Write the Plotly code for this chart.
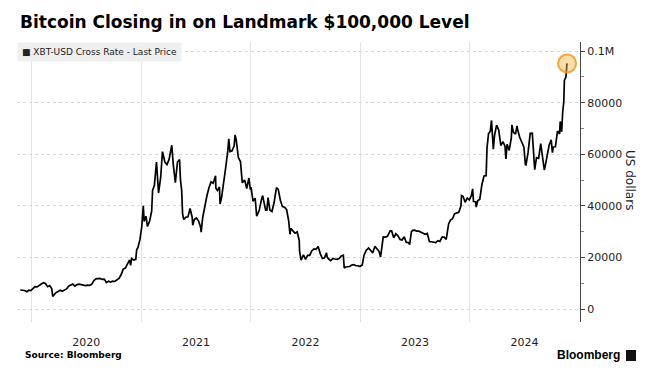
import plotly.graph_objects as go

title_text = "Bitcoin Closing in on Landmark $100,000 Level"
series_name = "XBT-USD Cross Rate - Last Price"
y_tick_vals = [0, 20000, 40000, 60000, 80000, 100000]
y_tick_text = ["0", "20000", "40000", "60000", "80000", "0.1M"]

dates = [
    "2019-11-25", "2019-12-02", "2019-12-09", "2019-12-17", "2019-12-23", "2019-12-30",
    "2020-01-06", "2020-01-13", "2020-01-20", "2020-01-27", "2020-02-03", "2020-02-10",
    "2020-02-17", "2020-02-24", "2020-03-02", "2020-03-09", "2020-03-12", "2020-03-16",
    "2020-03-23", "2020-03-30", "2020-04-06", "2020-04-13", "2020-04-20", "2020-04-27",
    "2020-05-04", "2020-05-11", "2020-05-18", "2020-05-25", "2020-06-01", "2020-06-08",
    "2020-06-15", "2020-06-22", "2020-06-29", "2020-07-06", "2020-07-13", "2020-07-20",
    "2020-07-27", "2020-08-03", "2020-08-10", "2020-08-17", "2020-08-24", "2020-08-31",
    "2020-09-07", "2020-09-14", "2020-09-21", "2020-09-28", "2020-10-05", "2020-10-12",
    "2020-10-19", "2020-10-26", "2020-11-02", "2020-11-09", "2020-11-16", "2020-11-23",
    "2020-11-27", "2020-11-30", "2020-12-07", "2020-12-14", "2020-12-17", "2020-12-21",
    "2020-12-28", "2020-12-31",
    "2021-01-03", "2021-01-08", "2021-01-11", "2021-01-17", "2021-01-22", "2021-01-29",
    "2021-02-05", "2021-02-08", "2021-02-14", "2021-02-21", "2021-02-28", "2021-03-07",
    "2021-03-13", "2021-03-21", "2021-03-28", "2021-04-04", "2021-04-13", "2021-04-18",
    "2021-04-25", "2021-05-02", "2021-05-09", "2021-05-12", "2021-05-16", "2021-05-19",
    "2021-05-23", "2021-05-30", "2021-06-06", "2021-06-13", "2021-06-20", "2021-06-22",
    "2021-06-27", "2021-07-04", "2021-07-11", "2021-07-18", "2021-07-20", "2021-07-25",
    "2021-08-01", "2021-08-08", "2021-08-15", "2021-08-22", "2021-08-29", "2021-09-06",
    "2021-09-07", "2021-09-12", "2021-09-19", "2021-09-21", "2021-09-26", "2021-10-03",
    "2021-10-10", "2021-10-17", "2021-10-20", "2021-10-24", "2021-10-31", "2021-11-07",
    "2021-11-10", "2021-11-14", "2021-11-21", "2021-11-28", "2021-12-04", "2021-12-12",
    "2021-12-19", "2021-12-26", "2021-12-31",
    "2022-01-02", "2022-01-09", "2022-01-16", "2022-01-21", "2022-01-24", "2022-01-30",
    "2022-02-06", "2022-02-10", "2022-02-13", "2022-02-20", "2022-02-24", "2022-02-28",
    "2022-03-06", "2022-03-13", "2022-03-20", "2022-03-28", "2022-04-03", "2022-04-10",
    "2022-04-17", "2022-04-24", "2022-05-01", "2022-05-08", "2022-05-12", "2022-05-15",
    "2022-05-22", "2022-05-29", "2022-06-05", "2022-06-12", "2022-06-13", "2022-06-18",
    "2022-06-26", "2022-07-03", "2022-07-10", "2022-07-17", "2022-07-24", "2022-07-31",
    "2022-08-07", "2022-08-14", "2022-08-21", "2022-08-28", "2022-09-04", "2022-09-11",
    "2022-09-13", "2022-09-18", "2022-09-25", "2022-10-02", "2022-10-09", "2022-10-16",
    "2022-10-23", "2022-10-30", "2022-11-06", "2022-11-09", "2022-11-13", "2022-11-20",
    "2022-11-27", "2022-12-04", "2022-12-11", "2022-12-18", "2022-12-25", "2022-12-31",
    "2023-01-08", "2023-01-14", "2023-01-21", "2023-01-29", "2023-02-05", "2023-02-12",
    "2023-02-19", "2023-02-26", "2023-03-05", "2023-03-10", "2023-03-14", "2023-03-19",
    "2023-03-26", "2023-04-02", "2023-04-11", "2023-04-16", "2023-04-23", "2023-04-30",
    "2023-05-07", "2023-05-14", "2023-05-21", "2023-05-28", "2023-06-04", "2023-06-11",
    "2023-06-15", "2023-06-21", "2023-06-25", "2023-07-02", "2023-07-09", "2023-07-16",
    "2023-07-23", "2023-07-30", "2023-08-06", "2023-08-13", "2023-08-17", "2023-08-20",
    "2023-08-27", "2023-09-03", "2023-09-10", "2023-09-17", "2023-09-24", "2023-10-01",
    "2023-10-08", "2023-10-15", "2023-10-23", "2023-10-29", "2023-11-05", "2023-11-12",
    "2023-11-19", "2023-11-26", "2023-12-03", "2023-12-05", "2023-12-10", "2023-12-17",
    "2023-12-24", "2023-12-31",
    "2024-01-07", "2024-01-11", "2024-01-14", "2024-01-21", "2024-01-23", "2024-01-28",
    "2024-02-04", "2024-02-11", "2024-02-18", "2024-02-25", "2024-02-28", "2024-03-04",
    "2024-03-10", "2024-03-14", "2024-03-20", "2024-03-24", "2024-03-31", "2024-04-07",
    "2024-04-14", "2024-04-21", "2024-04-28", "2024-05-01", "2024-05-05", "2024-05-12",
    "2024-05-19", "2024-05-21", "2024-05-26", "2024-06-02", "2024-06-07", "2024-06-09",
    "2024-06-16", "2024-06-23", "2024-06-30", "2024-07-05", "2024-07-07", "2024-07-14",
    "2024-07-21", "2024-07-28", "2024-08-05", "2024-08-11", "2024-08-18", "2024-08-25",
    "2024-09-01", "2024-09-06", "2024-09-08", "2024-09-15", "2024-09-22", "2024-09-29",
    "2024-10-03", "2024-10-06", "2024-10-13", "2024-10-20", "2024-10-27", "2024-10-29",
    "2024-11-03", "2024-11-06", "2024-11-10", "2024-11-12", "2024-11-17", "2024-11-20",
    "2024-11-21",
]

prices = [
    7400, 7400, 7200, 6700, 7300, 7200,
    8000, 8700, 8600, 9300, 9700, 10200,
    9900, 8700, 9100, 7900, 4900, 5400,
    6400, 6800, 7300, 6900, 7200, 7800,
    8900, 9300, 9700, 8900, 9500, 9700,
    9400, 9300, 9100, 9300, 9200, 9600,
    11000, 11700, 11800, 11900, 11500, 11600,
    10300, 10800, 10500, 10800, 10700, 11400,
    11900, 13300, 15500, 15900, 17700, 19000,
    17000, 19600, 19000, 19300, 23000, 23800,
    27000, 29000,
    32000, 40000, 34000, 36000, 32000, 34000,
    38000, 46000, 48000, 57000, 45000, 51000,
    61000, 57000, 56000, 58000, 63500, 56000,
    49000, 57000, 58000, 50000, 46000, 37000,
    34700, 35600, 35800, 39000, 35600, 32500,
    34700, 35300, 34200, 31800, 29800, 35400,
    39900, 43800, 47000, 49300, 48800, 51700,
    46800, 46000, 47300, 40700, 43200, 48200,
    55000, 61500, 66000, 61000, 61300, 63300,
    67500, 65500, 58700, 57200, 49000, 50000,
    46700, 50800, 46300,
    47300, 41800, 43000, 36000, 36700, 38500,
    42400, 44000, 42200, 38300, 38300, 43200,
    38400, 37800, 41200, 47100, 46400, 42200,
    39700, 39500, 38500, 34000, 29000, 31300,
    30300, 29400, 29900, 26600, 22500, 19000,
    21000, 19300, 20800, 20800, 22600, 23300,
    23200, 24300, 21500, 19600, 19900, 21800,
    20200, 19400, 18800, 19600, 19400, 19300,
    19600, 20600, 20900, 15900, 16300, 16300,
    16500, 17100, 17200, 16800, 16800, 16500,
    17100, 20900, 22700, 23700, 22900, 21800,
    24300, 23500, 22400, 20200, 24700, 28000,
    27900, 28200, 30300, 30300, 27600, 29200,
    28400, 27000, 26800, 28000, 25800, 25800,
    25000, 30000, 30500, 30600, 30200, 30200,
    29800, 29300, 29000, 29300, 26600, 26100,
    26100, 25800, 25800, 26500, 26200, 27900,
    27900, 27000, 33000, 34500, 35000, 37000,
    37400, 37500, 39900, 44000, 43700, 41400,
    43000, 42300,
    44000, 46600, 41700, 41600, 39500, 42000,
    42600, 48300, 51600, 51700, 62500, 68000,
    68900, 73100, 62000, 67200, 71300, 69400,
    63400, 64900, 63100, 58200, 63900, 61500,
    66300, 71400, 68500, 67800, 71000, 69600,
    66600, 64300, 62700, 56000, 55900, 60800,
    68100, 68200, 54000, 58700, 58400, 64100,
    57300, 53900, 54800, 59200, 63500, 65600,
    60600, 62800, 62900, 69000, 67900, 72700,
    68700, 75900, 80500, 88700, 89800, 94300,
    95200,
]

fig = go.Figure()
fig.add_trace(go.Scatter(
    x=dates, y=prices, mode="lines",
    line=dict(color="#000000", width=1.7),
    name=series_name, showlegend=False, hoverinfo="skip",
))
fig.add_trace(go.Scatter(
    x=[dates[-1]], y=[prices[-1]], mode="markers",
    marker=dict(size=18, color="rgba(247,180,70,0.45)",
                line=dict(color="rgba(240,160,40,0.9)", width=2)),
    showlegend=False, hoverinfo="skip",
))

fig.update_layout(
    width=657, height=374,
    margin=dict(l=17, r=77, t=42, b=52),
    paper_bgcolor="white", plot_bgcolor="white",
    font=dict(family="DejaVu Sans", color="#222222", size=11),
    title=dict(text="<b>" + title_text + "</b>", x=20 / 657, xanchor="left",
               y=1 - 22 / 374, yanchor="middle",
               font=dict(family="DejaVu Sans", size=17, color="#000000")),
    xaxis=dict(
        type="date", range=["2019-11-14", "2025-01-03"],
        tick0="2020-01-01", dtick="M12", ticklabelmode="period", tickformat="%Y",
        showgrid=True, gridcolor="#e4e4e4", gridwidth=1,
        ticks="outside", ticklen=10, tickcolor="rgba(0,0,0,0)",
        showline=False, zeroline=False,
        tickfont=dict(family="DejaVu Sans", size=11, color="#222222"),
    ),
    yaxis=dict(
        side="right", range=[-5000, 103500],
        tickvals=y_tick_vals, ticktext=y_tick_text,
        showgrid=True, gridcolor="#d8d8d8", griddash="dot",
        showline=True, linecolor="#444444", linewidth=1,
        ticks="outside", ticklen=4, tickcolor="#444444",
        minor=dict(ticks="outside", ticklen=3, dtick=10000, tick0=0, tickcolor="#888888", showgrid=False),
        zeroline=False,
        tickfont=dict(family="DejaVu Sans", size=11, color="#222222"),
    ),
    annotations=[
        dict(text="■ " + series_name, xref="paper", yref="paper",
             x=20 / 657 - 17 / 563, y=1.0, xanchor="left", yanchor="top",
             showarrow=False, bgcolor="#efefef", borderpad=4,
             font=dict(family="DejaVu Sans", size=9, color="#222222")),
        dict(text="US dollars", xref="paper", yref="paper",
             x=(630 - 17) / 563, y=(322 - 180) / 280, textangle=90,
             showarrow=False, xanchor="center", yanchor="middle",
             font=dict(family="DejaVu Sans", size=12, color="#222222")),
        dict(text="<b>Source: Bloomberg</b>", xref="paper", yref="paper",
             x=(23 - 17) / 563, y=(322 - 355) / 280, xanchor="left", yanchor="middle",
             showarrow=False, font=dict(family="DejaVu Sans", size=9, color="#000000")),
        dict(text="<b>Bloomberg</b>", xref="paper", yref="paper",
             x=(622 - 17) / 563, y=(322 - 355) / 280, xanchor="right", yanchor="middle",
             showarrow=False, font=dict(family="Liberation Sans", size=12, color="#000000")),
    ],
    shapes=[
        dict(type="rect", xref="paper", yref="paper",
             x0=(626 - 17) / 563, x1=(636 - 17) / 563,
             y0=(322 - 361) / 280, y1=(322 - 350) / 280,
             fillcolor="#111111", line=dict(width=0)),
    ],
)

fig.write_html("out.html", config={"displayModeBar": False},
               post_script="document.body.style.margin='0';")
